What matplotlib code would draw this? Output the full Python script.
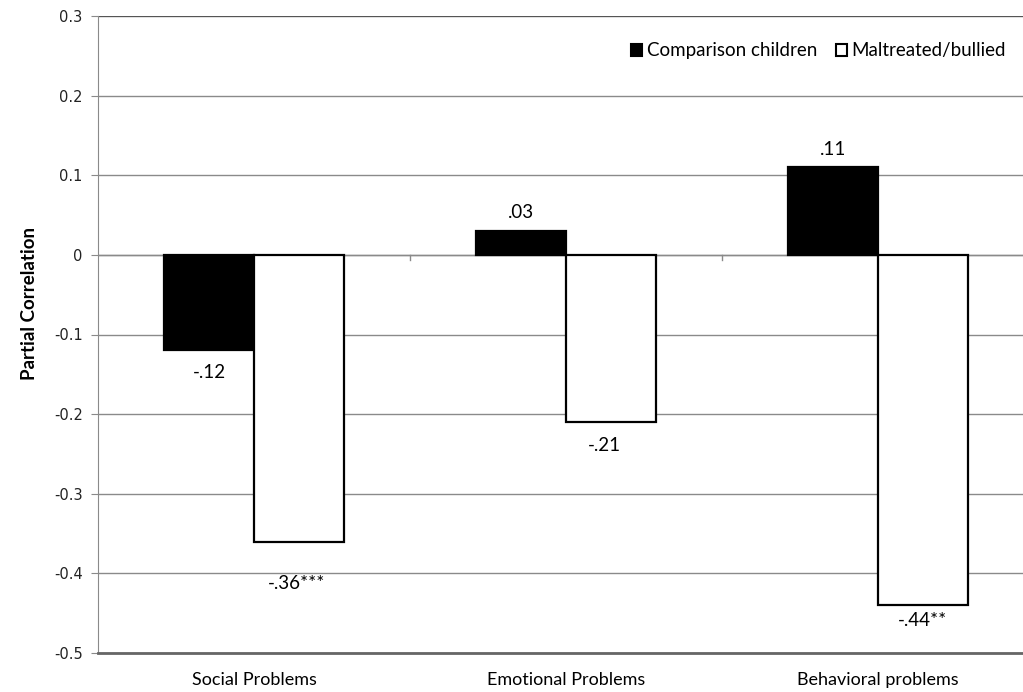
import matplotlib.pyplot as plt
import numpy as np
from matplotlib.patches import Patch

categories = ["Social Problems", "Emotional Problems", "Behavioral problems"]
comparison = [-0.12, 0.03, 0.11]
maltreated = [-0.36, -0.21, -0.44]
comparison_labels = ["-.12", ".03", ".11"]
maltreated_labels = ["-.36***", "-.21", "-.44**"]
y_ticks = [-0.5, -0.4, -0.3, -0.2, -0.1, 0, 0.1, 0.2, 0.3]
y_tick_labels = ["-0.5", "-0.4", "-0.3", "-0.2", "-0.1", "0", "0.1", "0.2", "0.3"]

plt.rcParams["font.family"] = ["Lato", "DejaVu Sans"]

fig = plt.figure(figsize=(10.23, 6.92), dpi=100)
ax = fig.add_axes([98 / 1023, 1 - 653 / 692, 925 / 1023, 637 / 692])

x = np.arange(len(categories))
w = 0.288
bar_kw = dict(edgecolor="black", linewidth=1.6, zorder=3)
ax.bar(x - w / 2, comparison, w, color="black", **bar_kw)
ax.bar(x + w / 2, maltreated, w, color="white", **bar_kw)

# label offsets (points) roughly where the original put them
comp_off = [(0, -16), (0, 13), (0, 13)]
malt_off = [(-2, -30), (-5, -17), (0, -11)]
for i in range(len(categories)):
    ax.annotate(comparison_labels[i], (x[i] - w / 2, comparison[i]), xytext=comp_off[i],
                textcoords="offset points", ha="center", va="center", fontsize=13.5)
    ax.annotate(maltreated_labels[i], (x[i] + w / 2, maltreated[i]), xytext=malt_off[i],
                textcoords="offset points", ha="center", va="center", fontsize=13.5)

ax.set_xlim(-0.5, -0.5 + 925 / 312)
ax.set_ylim(-0.5, 0.3)
ax.set_yticks(y_ticks)
ax.set_yticklabels(y_tick_labels, fontsize=10.5, family="DejaVu Sans", color="#222222")
ax.yaxis.grid(True, color="#8a8a8a", linewidth=1, zorder=0)
ax.set_axisbelow(True)

for s in ["right", "top"]:
    ax.spines[s].set_visible(False)
ax.spines["left"].set_color("#8a8a8a")
ax.spines["bottom"].set_color("#666666")
ax.spines["bottom"].set_linewidth(2)
ax.axhline(0.3, color="#555555", linewidth=1.5, zorder=1)
ax.axhline(0, color="#8a8a8a", linewidth=1, zorder=2)
ax.tick_params(axis="y", length=5, color="#8a8a8a", pad=6)

# category boundary ticks on the zero line
for b in [0.5, 1.5]:
    ax.plot([b, b], [0, -0.007], color="#8a8a8a", linewidth=1, zorder=2)

ax.set_xticks(x)
ax.set_xticklabels(categories, fontsize=13)
ax.tick_params(axis="x", length=0, pad=14)

ax.set_ylabel("Partial Correlation", fontsize=13.5, fontweight="bold")
ax.yaxis.set_label_coords(-0.065, 0.548)

handles = [Patch(facecolor="black", edgecolor="black", linewidth=1.5),
           Patch(facecolor="white", edgecolor="black", linewidth=1.5)]
ax.legend(handles, ["Comparison children", "Maltreated/bullied"], loc="upper right",
          bbox_to_anchor=(1.0, 0.985), ncol=2, frameon=False, fontsize=13.5,
          handlelength=0.6, handleheight=0.6, handletextpad=0.25, columnspacing=1.0)

fig.savefig("out.png", dpi=100)
